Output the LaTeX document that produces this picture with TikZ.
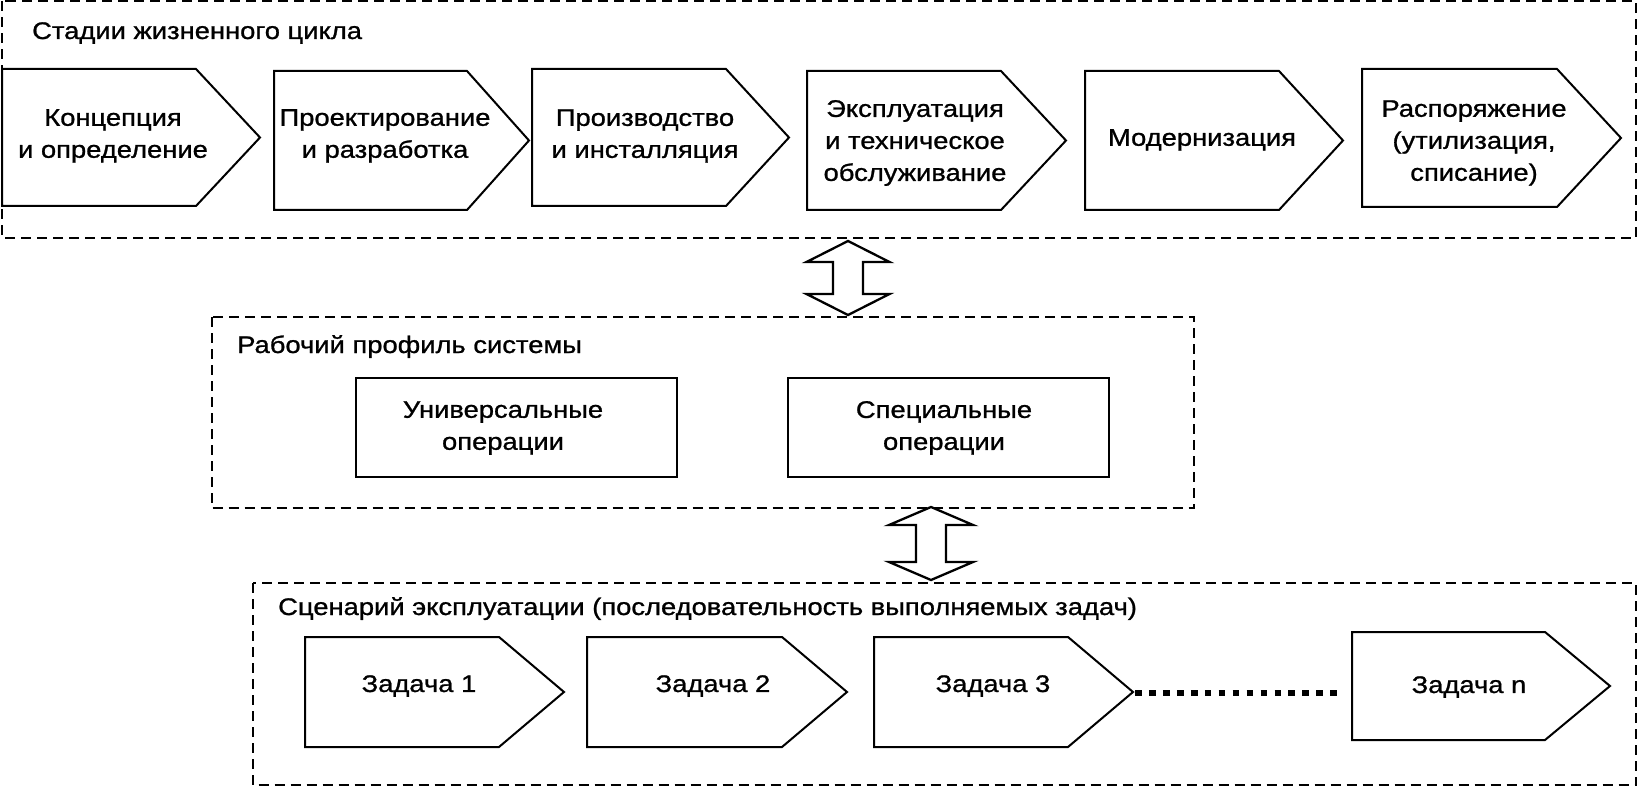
\documentclass[tikz,border=0pt]{standalone}
\usepackage{fontspec}
\setmainfont{Liberation Sans}[FakeStretch=1.14,FakeBold=1]
\begin{document}
\begin{tikzpicture}[x=1pt,y=-1pt,
  chev/.style={draw=black,line width=2pt,line join=miter},
  group/.style={draw=black,line width=2pt,dash pattern=on 10pt off 6pt},
  txt/.style={inner sep=0pt,align=center,font=\fontsize{24}{32}\selectfont},
  ttl/.style={inner sep=0pt,anchor=base west,font=\fontsize{24}{32}\selectfont},
  dbl/.style={draw=black,line width=2.3pt,fill=white,line join=miter},
  dots/.style={draw=black,line width=6.5pt,dash pattern=on 6.7pt off 7.25pt}]
\useasboundingbox (0,0) rectangle (1638,786);
\newcommand{\chevron}[6]{%
  \draw[chev] (#2,#3) -- (#5,#3) -- (#6,{(#3+#4)/2}) -- (#5,#4) -- (#2,#4) -- cycle;
  \coordinate (#1-tip) at (#6,{(#3+#4)/2});
  \coordinate (#1-w) at (#2,{(#3+#4)/2});}
% group boxes
\draw[group] (1.5,1.5) rectangle (1636,238);
\coordinate (g1s) at (848,241);
\draw[group] (211.5,317) rectangle (1194,508);
\coordinate (g2n) at (848,315);
\coordinate (g2s) at (931,507);
\draw[group] (252.5,583) rectangle (1636,785);
\coordinate (g3n) at (931,580);
\node[ttl] (t1) at (32,39) {Стадии жизненного цикла};
\node[ttl] (t2) at (237,353) {Рабочий профиль системы};
\node[ttl] (t3) at (278,615) {Сценарий эксплуатации (последовательность выполняемых задач)};
% life-cycle stages
\chevron{b1}{2}{69}{206}{196}{260}
\chevron{b2}{274}{71}{210}{467}{529}
\chevron{b3}{532}{69}{206}{726}{789}
\chevron{b4}{807}{71}{210}{1001}{1066}
\chevron{b5}{1085}{71}{210}{1279}{1343}
\chevron{b6}{1362}{69}{207}{1557}{1621}
\node[txt] (s1) at (113,136) {Концепция\\и определение};
\node[txt] (s2) at (385,136) {Проектирование\\и разработка};
\node[txt] (s3) at (645,136) {Производство\\и инсталляция};
\node[txt] (s4) at (915,143) {Эксплуатация\\и техническое\\обслуживание};
\node[txt] (s5) at (1202,140) {Модернизация};
\node[txt] (s6) at (1474,143) {Распоряжение\\(утилизация,\\списание)};
% operations
\node[draw=black,line width=2pt,minimum width=321pt,minimum height=99pt,txt] (u) at (516.5,427.5) {};
\node[txt] (ut) at (503,428) {Универсальные\\операции};
\node[draw=black,line width=2pt,minimum width=321pt,minimum height=99pt,txt] (sp) at (948.5,427.5) {};
\node[txt] (st) at (944,428) {Специальные\\операции};
% tasks
\chevron{k1}{305}{637}{747}{499}{564}
\chevron{k2}{587}{637}{747}{782}{847}
\chevron{k3}{874}{637}{747}{1068}{1133}
\chevron{kn}{1352}{632}{740}{1545}{1610}
\node[txt] (z1) at (419,686) {Задача 1};
\node[txt] (z2) at (713,686) {Задача 2};
\node[txt] (z3) at (993,686) {Задача 3};
\node[txt] (zn) at (1469,687) {Задача n};
\draw[dots] ([xshift=2pt,yshift=-1pt]k3-tip) -- ([xshift=-15pt,yshift=-1pt]k3-tip -| kn-w);
% double arrows
\draw[dbl] (g1s) -- ++(41.5,21) -- ++(-26.5,0) -- ++(0,32) -- ++(26.5,0)
  -- (g2n) -- ++(-41.5,-21) -- ++(26.5,0) -- ++(0,-32) -- ++(-26.5,0) -- cycle;
\draw[dbl] (g2s) -- ++(42,18) -- ++(-27,0) -- ++(0,37) -- ++(27,0)
  -- (g3n) -- ++(-42,-18) -- ++(27,0) -- ++(0,-37) -- ++(-27,0) -- cycle;
\end{tikzpicture}
\end{document}
